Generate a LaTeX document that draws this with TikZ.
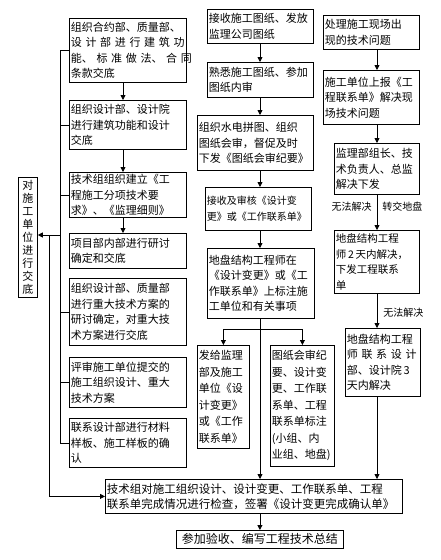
\documentclass[tikz,border=0pt]{standalone}
\usepackage{fontspec}
\newfontfamily\cjk{Noto Sans CJK SC}
\usetikzlibrary{arrows.meta,calc}
\newcommand\spr[1]{\makebox[\hsize][s]{#1}}
\tikzset{
  bx/.style={draw, line width=0.8pt, anchor=north west, inner xsep=1.5pt, inner ysep=1pt,
    align=left, font=\cjk\fontsize{11}{15.5}\selectfont},
  arr/.style={line width=0.8pt, -{Triangle[length=5pt,width=5pt]}},
  ln/.style={line width=0.8pt},
  lbl/.style={font=\cjk\fontsize{10}{12}\selectfont, inner sep=0pt}
}
\begin{document}
\begin{tikzpicture}[x=1pt,y=-1pt]
\useasboundingbox (0,0) rectangle (440,560);
% left column
\node[bx, text width=114pt, minimum height=64pt] (B1) at (69,18)
  {组织合约部、质量部、\\\spr{设 计 部 进 行 建 筑 功}\\\spr{能、 标 准 做 法、 合 同}\\条款交底};
\node[bx, text width=114pt, minimum height=49pt] (B2) at (69,100)
  {组织设计部、设计院\\进行建筑功能和设计\\交底};
\node[bx, text width=114pt, minimum height=45pt] (B3) at (69,172)
  {技术组组织建立《工\\程施工分项技术要\\求》、《监理细则》};
\node[bx, text width=114pt, minimum height=35pt] (B4) at (69,233)
  {项目部内部进行研讨\\确定和交底};
\node[bx, text width=114pt, minimum height=67pt] (B5) at (69,278)
  {组织设计部、质量部\\进行重大技术方案的\\研讨确定，对重大技\\术方案进行交底};
\node[bx, text width=114pt, minimum height=50pt] (B6) at (69,357)
  {评审施工单位提交的\\施工组织设计、重大\\技术方案};
\node[bx, text width=114pt, minimum height=49pt] (B7) at (69,418)
  {联系设计部进行材料\\样板、施工样板的确\\认};
\node[bx, minimum width=19pt, minimum height=120pt, align=center,
  font=\cjk\fontsize{11}{13}\selectfont] (V) at (18,177)
  {对\\施\\工\\单\\位\\进\\行\\交\\底};
% middle column
\node[bx, text width=103pt, minimum height=34pt] (M1) at (207,9)
  {接收施工图纸、发放\\监理公司图纸};
\node[bx, text width=103pt, minimum height=35pt] (M2) at (207,62)
  {熟悉施工图纸、参加\\图纸内审};
\node[bx, text width=113pt, minimum height=55pt] (M3) at (197,115)
  {组织水电拼图、组织\\图纸会审，督促及时\\下发《图纸会审纪要》};
\node[bx, text width=103pt, minimum height=43pt, font=\cjk\fontsize{10}{15.5}\selectfont] (M4) at (205,187)
  {接收及审核《设计变\\更》或《工作联系单》};
\node[bx, text width=104pt, minimum height=70pt] (M5) at (207,248)
  {地盘结构工程师在\\《设计变更》或《工\\作联系单》上标注施\\工单位和有关事项};
\node[bx, text width=49pt, minimum height=103pt, font=\cjk\fontsize{11}{16.5}\selectfont] (M6) at (197,345)
  {发给监理\\部及施工\\单位《设\\计变更》\\或《工作\\联系单》};
\node[bx, text width=61pt, minimum height=121pt, font=\cjk\fontsize{11}{16.5}\selectfont] (M7) at (270,345)
  {图纸会审纪\\要、设计变\\更、工作联\\系单、工程\\联系单标注\\(小组、内\\业组、地盘)};
% right column
\node[bx, text width=93pt, minimum height=34pt] (R1) at (323,15)
  {处理施工现场出\\现的技术问题};
\node[bx, text width=93pt, minimum height=54pt] (R2) at (323,70)
  {施工单位上报《工\\程联系单》解决现\\场技术问题};
\node[bx, text width=82pt, minimum height=51pt] (R3) at (334,143)
  {监理部组长、技\\术负责人、总监\\解决下发};
\node[bx, text width=82pt, minimum height=63pt, font=\cjk\fontsize{10.5}{15.5}\selectfont] (R4) at (334,230)
  {地盘结构工程\\师\,2\,天内解决，\\下发工程联系\\单};
\node[bx, text width=72pt, minimum height=68pt] (R5) at (345,328)
  {地盘结构工程\\\spr{师 联 系 设 计}\\部、设计院\,3\\天内解决};
% bottom
\node[bx, text width=294pt, minimum height=34pt, font=\cjk\fontsize{11.5}{15}\selectfont] (BT) at (105,479)
  {技术组对施工组织设计、设计变更、工作联系单、工程\\联系单完成情况进行检查，签署《设计变更完成确认单》};
\node[bx, minimum width=167pt, minimum height=18pt, align=center, font=\cjk\fontsize{12}{14}\selectfont] (F) at (176,530)
  {参加验收、编写工程技术总结};
% coordinates
\coordinate (lx) at (123,0);
\coordinate (brk) at (60,0);
\coordinate (mx) at (260,0);
\coordinate (rx) at (377,0);
\coordinate (j1) at (60,235);
\coordinate (j2) at (49,235);
\coordinate (br) at (260,329);
% left arrows
\draw[arr] (B1.south -| lx) -- (B2.north -| lx);
\draw[arr] (B2.south -| lx) -- (B3.north -| lx);
\draw[arr] (B3.south -| lx) -- (B4.north -| lx);
% bracket
\draw[ln] (B1.west -| brk) -- (B7.west -| brk);
\foreach \b in {B1,B2,B3,B5,B6,B7} \draw[ln] (\b.west -| brk) -- (\b.west);
\draw[arr] (j1) -- (j1 -| V.east);
\draw[arr] (j2) |- (BT.west);
% middle arrows
\draw[arr] (M1.south -| mx) -- (M2.north -| mx);
\draw[arr] (M2.south -| mx) -- (M3.north -| mx);
\draw[arr] (M3.south -| mx) -- (M4.north -| mx);
\draw[arr] (M4.south -| mx) -- (M5.north -| mx);
\draw[arr] (M5.south -| mx) -- (BT.north -| mx);
\draw[arr] (br) -| (M6.north);
\draw[arr] (br) -| (M7.north);
% right arrows
\draw[arr] (R1.south -| rx) -- (R2.north -| rx);
\draw[arr] (R2.south -| rx) -- (R3.north -| rx);
\draw[arr] (R3.south -| rx) -- (R4.north -| rx) node[lbl, pos=0.35, left=5pt] (L1) {无法解决} node[lbl, pos=0.35, right=5pt] (L2) {转交地盘};
\draw[arr] (R4.south -| rx) -- (R5.north -| rx) node[lbl, pos=0.55, right=6pt] (L3) {无法解决};
\draw[arr] (R5.south -| rx) -- (BT.north -| rx);
\draw[arr] (BT.south -| F.north) -- (F.north);
\end{tikzpicture}
\end{document}
